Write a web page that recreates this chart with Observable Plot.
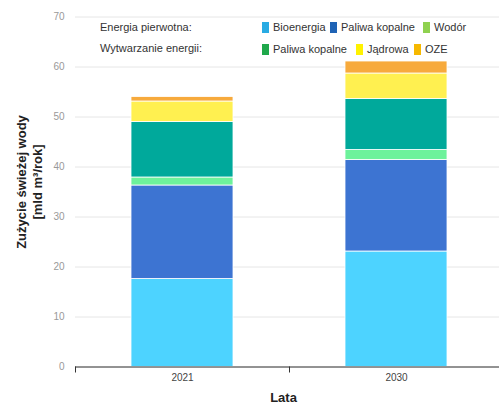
<!DOCTYPE html>
<html>
<head>
<meta charset="utf-8">
<script src="https://cdn.jsdelivr.net/npm/d3@7"></script>
<script src="https://cdn.jsdelivr.net/npm/@observablehq/plot@0.6"></script>
<style>
  html, body { margin: 0; padding: 0; background: #fff; }
  #wrap { position: relative; width: 499px; height: 407px; overflow: hidden; font-family: "Liberation Sans", Arial, sans-serif; }
  #wrap svg { position: absolute; left: 0; top: 0; }
  .lg { position: absolute; font-size: 11px; color: #333; white-space: nowrap; line-height: 14px; }
  .sw { position: absolute; width: 7px; height: 11px; }
</style>
</head>
<body>
<div id="wrap"></div>
<script>
const years = ["2021", "2030"];
const series = ["Bioenergia", "Paliwa kopalne (pierwotna)", "Wodór", "Paliwa kopalne (wytwarzanie)", "Jądrowa", "OZE"];
const values2021 = [17.6, 18.7, 1.6, 11.1, 4.1, 0.9];
const values2030 = [23.1, 18.3, 2.0, 10.2, 5.1, 2.4];
const barColors = ["#4dd3ff", "#3d74d2", "#6df29b", "#00a99b", "#fff050", "#f7aa3c"];
const yTicks = [0, 10, 20, 30, 40, 50, 60, 70];
const legendGroups = ["Energia pierwotna:", "Wytwarzanie energii:"];
const legendRow1 = [["Bioenergia", "#29abe3"], ["Paliwa kopalne", "#1f63b5"], ["Wodór", "#8fd14f"]];
const legendRow2 = [["Paliwa kopalne", "#1fa84b"], ["Jądrowa", "#fff200"], ["OZE", "#f6b800"]];
const yLabel = "Zużycie świeżej wody\n[mld m³/rok]";
const xLabel = "Lata";

const data = [];
years.forEach((yr, i) => {
  const vals = i === 0 ? values2021 : values2030;
  series.forEach((s, j) => data.push({year: yr, series: s, value: vals[j]}));
});

const left = 75, right = 503;
const bw = (right - left) / years.length;

const chart = Plot.plot({
  width: 499,
  height: 407,
  marginLeft: 75,
  marginRight: 0,
  marginTop: 16.5,
  marginBottom: 40.5,
  style: {fontFamily: "'Liberation Sans', Arial, sans-serif", background: "transparent", overflow: "visible"},
  x: {domain: years, range: [left, right], padding: 0, label: null},
  y: {domain: [0, 70], label: null},
  color: {domain: series, range: barColors},
  marks: [
    Plot.gridY(yTicks, {stroke: "#e6e6e6", strokeOpacity: 1}),
    Plot.axisY(yTicks, {tickSize: 0, tickPadding: 11, fontSize: 10, fill: "#999", label: null}),
    Plot.barY(data, {x: "year", y: "value", fill: "series", order: series, insetLeft: 56, insetRight: 56, stroke: "#fff", strokeWidth: 0.8}),
    Plot.ruleY([0], {stroke: "#333", strokeWidth: 1}),
    Plot.ruleX(years, {x: d => d, dx: -bw / 2, insetTop: 344, dy: 6, stroke: "#333"}),
    Plot.axisX({tickSize: 0, tickPadding: 7, fontSize: 10, fill: "#444", label: null}),
    Plot.text([xLabel], {frameAnchor: "bottom", dy: 35, dx: -4, fontSize: 13, fontWeight: "bold", fill: "#222"}),
    Plot.text([yLabel], {frameAnchor: "left", dx: -47, dy: -10, rotate: -90, fontSize: 13, fontWeight: "bold", fill: "#222", lineHeight: 1.25, textAnchor: "middle", lineAnchor: "middle"})
  ]
});

const wrap = document.getElementById("wrap");
wrap.appendChild(chart);

function addText(txt, x, cy) {
  const d = document.createElement("div");
  d.className = "lg";
  d.textContent = txt;
  d.style.left = x + "px";
  d.style.top = (cy - 7) + "px";
  wrap.appendChild(d);
}
function addSwatch(color, x, cy) {
  const d = document.createElement("div");
  d.className = "sw";
  d.style.background = color;
  d.style.left = x + "px";
  d.style.top = (cy - 5.5) + "px";
  wrap.appendChild(d);
}
addText(legendGroups[0], 100, 27);
addText(legendGroups[1], 100, 48);
const row1X = [262, 330, 423];
const row2X = [262, 356, 414];
legendRow1.forEach(([t, c], i) => { addSwatch(c, row1X[i], 27); addText(t, row1X[i] + 11, 27); });
legendRow2.forEach(([t, c], i) => { addSwatch(c, row2X[i], 49); addText(t, row2X[i] + 11, 49); });
</script>
</body>
</html>
